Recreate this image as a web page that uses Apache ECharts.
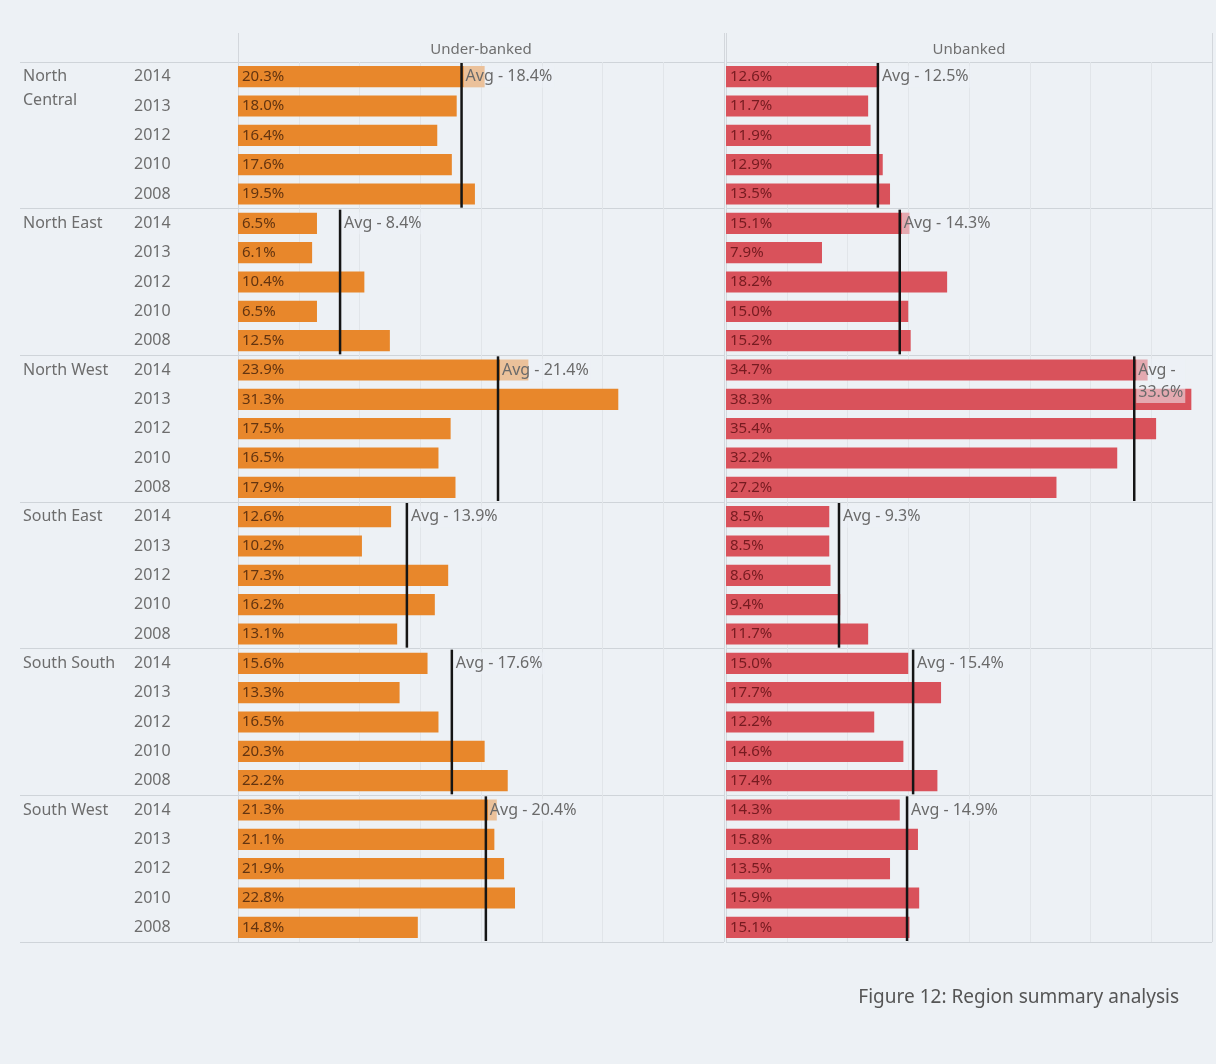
<!DOCTYPE html>
<html>
<head>
<meta charset="utf-8">
<title>Region summary analysis</title>
<script src="https://cdn.jsdelivr.net/npm/echarts@6/dist/echarts.min.js"></script>
<style>
  html, body { margin: 0; padding: 0; background: #edf1f5; }
  #chart { width: 1216px; height: 1064px; }
</style>
</head>
<body>
<div id="chart"></div>
<script>
// Regions and survey years (rows are listed newest first inside each region)
const regions = ['North Central', 'North East', 'North West', 'South East', 'South South', 'South West'];
const years = ['2014', '2013', '2012', '2010', '2008'];

// Under-banked share (%) per region, in the same year order
const underBanked = [
  [20.3, 18.0, 16.4, 17.6, 19.5],
  [6.5, 6.1, 10.4, 6.5, 12.5],
  [23.9, 31.3, 17.5, 16.5, 17.9],
  [12.6, 10.2, 17.3, 16.2, 13.1],
  [15.6, 13.3, 16.5, 20.3, 22.2],
  [21.3, 21.1, 21.9, 22.8, 14.8]
];
const underBankedAvg = [18.4, 8.4, 21.4, 13.9, 17.6, 20.4];

// Unbanked share (%) per region
const unbanked = [
  [12.6, 11.7, 11.9, 12.9, 13.5],
  [15.1, 7.9, 18.2, 15.0, 15.2],
  [34.7, 38.3, 35.4, 32.2, 27.2],
  [8.5, 8.5, 8.6, 9.4, 11.7],
  [15.0, 17.7, 12.2, 14.6, 17.4],
  [14.3, 15.8, 13.5, 15.9, 15.1]
];
const unbankedAvg = [12.5, 14.3, 33.6, 9.3, 15.4, 14.9];

const panelTitles = ['Under-banked', 'Unbanked'];
const figureCaption = 'Figure 12: Region summary analysis';

const FONT = '"Noto Sans", "DejaVu Sans", sans-serif';
const ORANGE = '#e8872b';
const RED = '#d9525b';
const PANE = '#edf1f5';

// One category per region/year pair
const rows = [];
regions.forEach(r => years.forEach(y => rows.push(r + '|' + y)));
const flat = arr => arr.reduce((a, b) => a.concat(b), []);

const perBlock = years.length;
const blockSplit = {
  show: true,
  interval: idx => idx % perBlock === 0,
  lineStyle: { color: '#cfd4d9', width: 1.2 }
};

function rowAxis(gridIndex, withYears) {
  return {
    type: 'category', gridIndex, inverse: true, data: rows,
    axisLine: { show: false }, axisTick: { show: false },
    axisLabel: withYears ? {
      show: true, align: 'left', margin: 104,
      color: '#6d6d6d', fontSize: 16, fontFamily: FONT,
      formatter: v => v.split('|')[1]
    } : { show: false },
    splitLine: blockSplit
  };
}

function valueAxis(gridIndex, name) {
  return {
    type: 'value', gridIndex, position: 'top', min: 0, max: 40, interval: 5,
    name, nameLocation: 'middle', nameGap: 5,
    nameTextStyle: { color: '#6f6f6f', fontSize: 15, fontFamily: FONT },
    axisLine: { show: false }, axisTick: { show: false }, axisLabel: { show: false },
    splitLine: {
      show: true,
      lineStyle: { color: ['#d3d7dc', '#e1e5e9', '#e1e5e9', '#e1e5e9', '#e1e5e9', '#e1e5e9', '#e1e5e9', '#e1e5e9', '#d3d7dc'] }
    }
  };
}

// Header strip axes: only the two pane borders are drawn
function headerAxis(gridIndex) {
  return {
    type: 'value', gridIndex, min: 0, max: 40, interval: 40,
    axisLine: { show: false }, axisTick: { show: false }, axisLabel: { show: false },
    splitLine: { show: true, lineStyle: { color: '#d3d7dc' } }
  };
}

function barSeries(axisIndex, values, color, labelColor) {
  return {
    type: 'bar', xAxisIndex: axisIndex, yAxisIndex: axisIndex,
    data: flat(values), barCategoryGap: '28%',
    itemStyle: { color },
    label: {
      show: true, position: 'insideLeft', distance: 4,
      color: labelColor, fontSize: 15, fontFamily: FONT,
      formatter: p => p.value.toFixed(1) + '%'
    },
    silent: true, z: 2
  };
}

// Average reference line spanning each region block, with its label
function avgSeries(axisIndex, avgs) {
  const data = avgs.map((v, i) => [v, i * perBlock, i * perBlock + perBlock - 1]);
  return {
    type: 'custom', xAxisIndex: axisIndex, yAxisIndex: axisIndex,
    data, clip: false, silent: true, z: 5,
    encode: { x: 0, y: [1, 2] },
    renderItem(params, api) {
      const v = api.value(0);
      const first = api.value(1), last = api.value(2);
      const band = api.size([0, 1])[1];
      const top = api.coord([v, first]);
      const bottom = api.coord([v, last]);
      const cs = params.coordSys;
      const room = cs.x + cs.width - top[0];
      const val = v.toFixed(1) + '%';
      const text = room < 95 ? 'Avg -\n' + val : 'Avg - ' + val;
      return {
        type: 'group',
        children: [
          {
            type: 'line',
            shape: { x1: top[0], y1: top[1] - band / 2 + 1, x2: top[0], y2: bottom[1] + band / 2 - 1 },
            style: { stroke: '#151515', lineWidth: 2.5 }
          },
          {
            type: 'text', x: top[0] + 2, y: top[1] - 11,
            style: {
              text, fill: '#6a6a6a', fontSize: 16, fontFamily: FONT,
              align: 'left', verticalAlign: 'top', lineHeight: 22,
              backgroundColor: 'rgba(237,241,245,0.55)', padding: [0, 2]
            }
          }
        ]
      };
    }
  };
}

// Region names in the leftmost column, set against the first row of their block
const regionLabelSeries = {
  type: 'custom', xAxisIndex: 0, yAxisIndex: 0,
  data: regions.map((r, i) => [0, i * perBlock]),
  clip: false, silent: true,
  encode: { x: 0, y: 1 },
  renderItem(params, api) {
    const p = api.coord([api.value(0), api.value(1)]);
    return {
      type: 'text', x: p[0] + 3, y: p[1] - 12,
      style: {
        text: regions[params.dataIndex], fill: '#6d6d6d',
        fontSize: 16, fontFamily: FONT, align: 'left', verticalAlign: 'top',
        lineHeight: 24, width: 97, overflow: 'break'
      }
    };
  }
};

const chart = echarts.init(document.getElementById('chart'), null, { renderer: 'canvas' });
chart.setOption({
  backgroundColor: PANE,
  animation: false,
  title: {
    text: figureCaption, right: 32, top: 983,
    textStyle: { color: '#555', fontSize: 19, fontWeight: 'normal', fontFamily: FONT }
  },
  grid: [
    { left: 20, top: 62, width: 218, height: 880 },
    { left: 238, top: 62, width: 486, height: 880 },
    { left: 726, top: 62, width: 486, height: 880 },
    { left: 238, top: 33, width: 486, height: 29 },
    { left: 726, top: 33, width: 486, height: 29 }
  ],
  xAxis: [
    { type: 'value', gridIndex: 0, min: 0, max: 1, show: false },
    valueAxis(1, panelTitles[0]),
    valueAxis(2, panelTitles[1]),
    headerAxis(3),
    headerAxis(4)
  ],
  yAxis: [
    rowAxis(0, false),
    rowAxis(1, true),
    rowAxis(2, false),
    { type: 'value', gridIndex: 3, show: false },
    { type: 'value', gridIndex: 4, show: false }
  ],
  series: [
    regionLabelSeries,
    barSeries(1, underBanked, ORANGE, '#633410'),
    barSeries(2, unbanked, RED, '#761b20'),
    avgSeries(1, underBankedAvg),
    avgSeries(2, unbankedAvg)
  ]
});
</script>
</body>
</html>
